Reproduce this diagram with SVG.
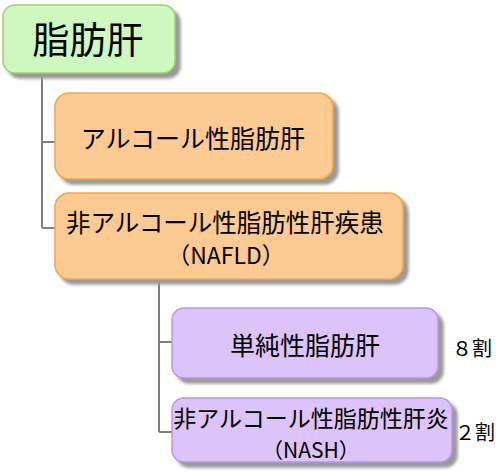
<svg xmlns="http://www.w3.org/2000/svg" width="502" height="472" viewBox="0 0 502 472">
<defs>
<filter id="sh" x="-10%" y="-10%" width="130%" height="140%">
<feGaussianBlur in="SourceAlpha" stdDeviation="1.5"/>
<feOffset dx="5" dy="5" result="b"/>
<feFlood flood-color="#9a9a9a"/>
<feComposite in2="b" operator="in"/>
<feMerge><feMergeNode/><feMergeNode in="SourceGraphic"/></feMerge>
</filter>
</defs>
<style>
text{font-family:"Noto Sans CJK JP","Noto Sans",sans-serif;fill:#000;text-anchor:middle}
.green{fill:#cef8c0;stroke:#9fd070;stroke-width:1.5}
.orange{fill:#fdca94;stroke:#f0a848;stroke-width:1.5}
.purple{fill:#dcc3f8;stroke:#b896e6;stroke-width:1.5}
.conn{fill:none;stroke:#808080;stroke-width:2}
.note{font-size:20px;text-anchor:start}
</style>
<rect width="502" height="472" fill="#fff"/>
<g id="connectors">
<path class="conn" d="M42 73V228M42 142H56M42 228H56"/>
<path class="conn" d="M159 279V432M159 342H173M159 432H173"/>
</g>
<g id="root">
<rect class="green" x="3" y="5" width="172" height="68" rx="12" filter="url(#sh)"/>
<text x="88" y="54" font-size="37">脂肪肝</text>
</g>
<g id="alcoholic">
<rect class="orange" x="55" y="93" width="278" height="86" rx="14" filter="url(#sh)"/>
<text x="193" y="148" font-size="25">アルコール性脂肪肝</text>
</g>
<g id="nafld">
<rect class="orange" x="55" y="193" width="348" height="86" rx="14" filter="url(#sh)"/>
<text x="225" y="232" font-size="24.5">非アルコール性脂肪性肝疾患</text>
<text x="226" y="264" font-size="23">（NAFLD）</text>
</g>
<g id="simple">
<rect class="purple" x="172" y="308" width="266" height="70" rx="12" filter="url(#sh)"/>
<text x="305" y="355" font-size="25">単純性脂肪肝</text>
</g>
<g id="nash">
<rect class="purple" x="172" y="398" width="280" height="64" rx="12" filter="url(#sh)"/>
<text x="311" y="427" font-size="23">非アルコール性脂肪性肝炎</text>
<text x="311" y="458" font-size="21">（NASH）</text>
</g>
<g id="labels">
<text class="note" x="452" y="356">８割</text>
<text class="note" x="455" y="440">２割</text>
</g>
</svg>
